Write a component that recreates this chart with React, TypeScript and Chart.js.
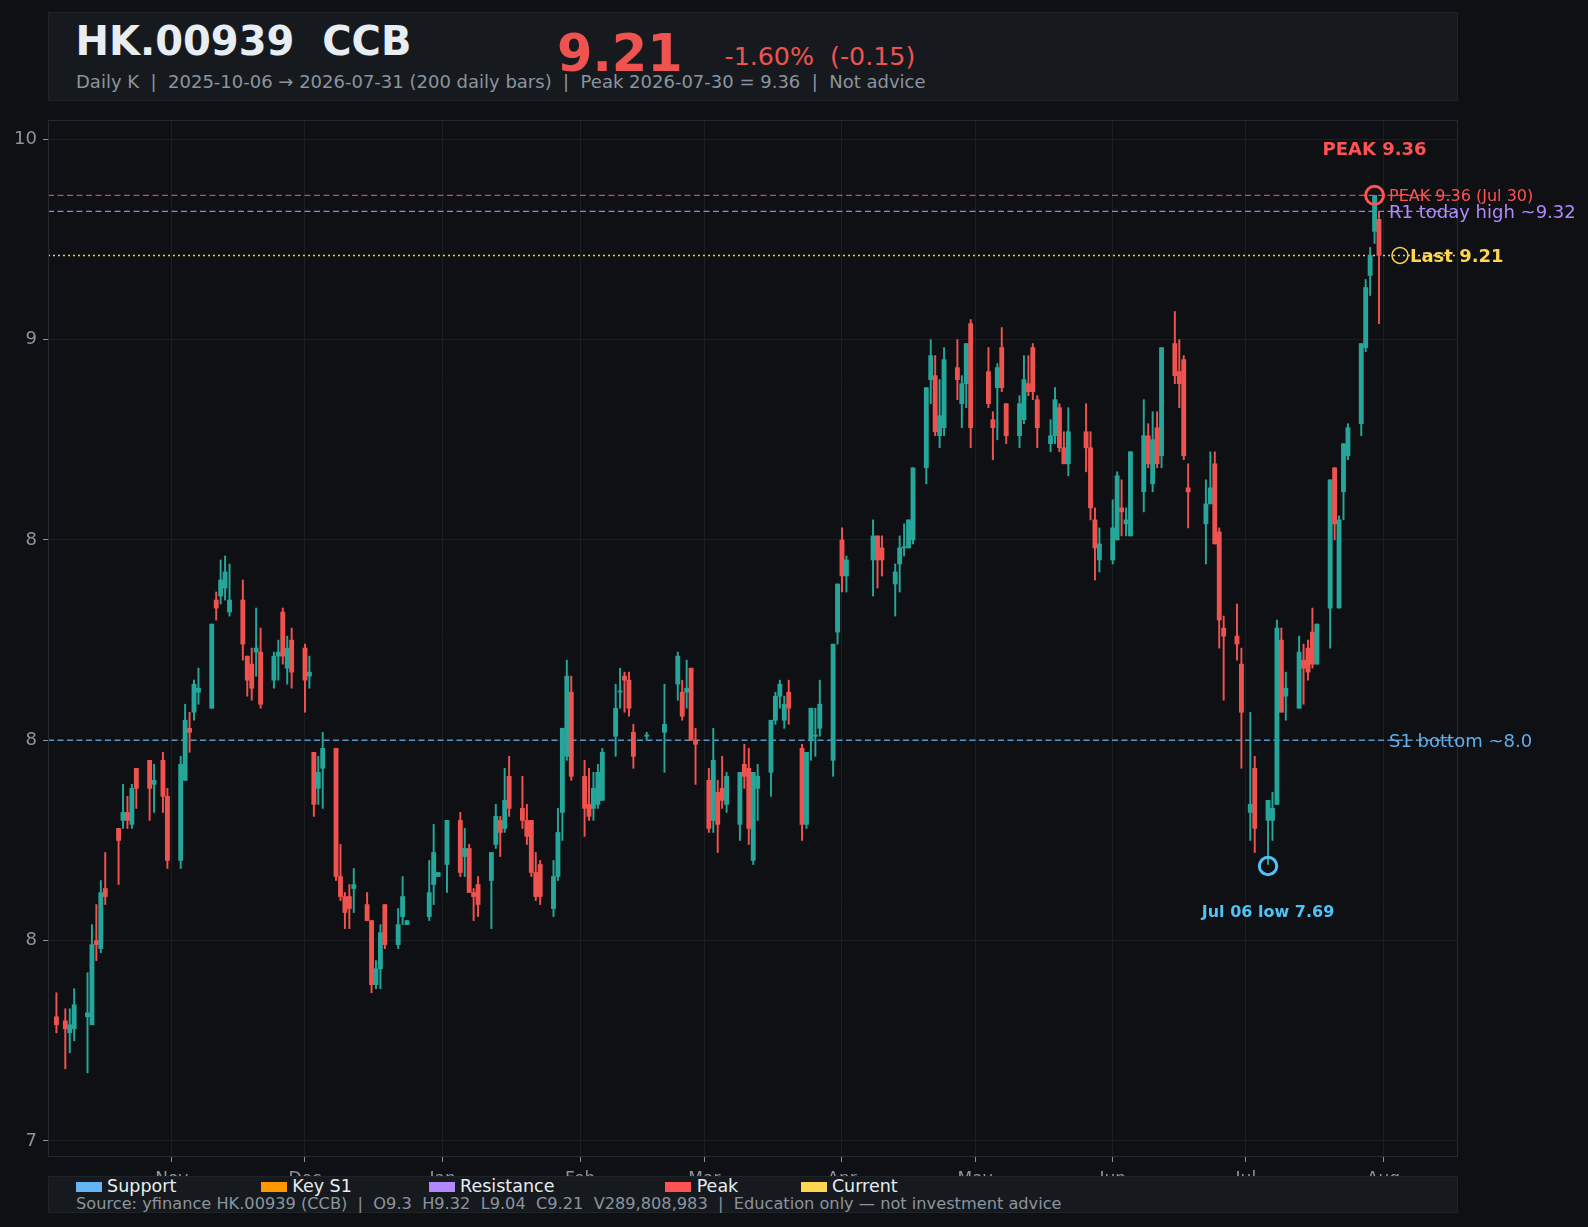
import React, { useEffect, useRef } from 'react';
import { Chart, registerables } from 'chart.js';

Chart.register(...registerables);

// ---------------- data ----------------
const tradeDates = [
  '2025-10-06','2025-10-08','2025-10-09','2025-10-10','2025-10-13','2025-10-14','2025-10-15','2025-10-16','2025-10-17','2025-10-20','2025-10-21','2025-10-22','2025-10-23','2025-10-24','2025-10-27','2025-10-28','2025-10-30','2025-10-31',
  '2025-11-03','2025-11-04','2025-11-05','2025-11-06','2025-11-07','2025-11-10','2025-11-11','2025-11-12','2025-11-13','2025-11-14','2025-11-17','2025-11-18','2025-11-19','2025-11-20','2025-11-21','2025-11-24','2025-11-25','2025-11-26','2025-11-27','2025-11-28',
  '2025-12-01','2025-12-02','2025-12-03','2025-12-04','2025-12-05','2025-12-08','2025-12-09','2025-12-10','2025-12-11','2025-12-12','2025-12-15','2025-12-16','2025-12-17','2025-12-18','2025-12-19','2025-12-22','2025-12-23','2025-12-24','2025-12-29','2025-12-30','2025-12-31',
  '2026-01-02','2026-01-05','2026-01-06','2026-01-07','2026-01-08','2026-01-09','2026-01-12','2026-01-13','2026-01-14','2026-01-15','2026-01-16','2026-01-19','2026-01-20','2026-01-21','2026-01-22','2026-01-23','2026-01-26','2026-01-27','2026-01-28','2026-01-29','2026-01-30',
  '2026-02-02','2026-02-03','2026-02-04','2026-02-05','2026-02-06','2026-02-09','2026-02-10','2026-02-11','2026-02-12','2026-02-13','2026-02-16','2026-02-20','2026-02-23','2026-02-24','2026-02-25','2026-02-26','2026-02-27',
  '2026-03-02','2026-03-03','2026-03-04','2026-03-05','2026-03-06','2026-03-09','2026-03-10','2026-03-11','2026-03-12','2026-03-13','2026-03-16','2026-03-17','2026-03-18','2026-03-19','2026-03-20','2026-03-23','2026-03-24','2026-03-25','2026-03-26','2026-03-27','2026-03-30','2026-03-31',
  '2026-04-01','2026-04-02','2026-04-08','2026-04-09','2026-04-10','2026-04-13','2026-04-14','2026-04-15','2026-04-16','2026-04-17','2026-04-20','2026-04-21','2026-04-22','2026-04-23','2026-04-24','2026-04-27','2026-04-28','2026-04-29','2026-04-30',
  '2026-05-04','2026-05-05','2026-05-06','2026-05-07','2026-05-08','2026-05-11','2026-05-12','2026-05-13','2026-05-14','2026-05-15','2026-05-18','2026-05-19','2026-05-20','2026-05-21','2026-05-22','2026-05-26','2026-05-27','2026-05-28','2026-05-29',
  '2026-06-01','2026-06-02','2026-06-03','2026-06-04','2026-06-05','2026-06-08','2026-06-09','2026-06-10','2026-06-11','2026-06-12','2026-06-15','2026-06-16','2026-06-17','2026-06-18','2026-06-22','2026-06-23','2026-06-24','2026-06-25','2026-06-26','2026-06-29','2026-06-30',
  '2026-07-02','2026-07-03','2026-07-06','2026-07-07','2026-07-08','2026-07-09','2026-07-10','2026-07-13','2026-07-14','2026-07-15','2026-07-16','2026-07-17','2026-07-20','2026-07-21','2026-07-22','2026-07-23','2026-07-24','2026-07-27','2026-07-28','2026-07-29','2026-07-30','2026-07-31',
];

const opens = [
  7.31,7.30,7.27,7.28,7.31,7.29,7.50,7.48,7.63,7.78,7.80,7.82,7.79,7.93,7.95,7.89,7.95,7.86,
  7.70,7.90,8.03,8.07,8.12,8.08,8.35,8.36,8.38,8.32,8.35,8.21,8.19,8.22,8.22,8.15,8.21,8.32,8.18,8.25,
  8.23,8.16,7.97,7.88,7.93,7.98,7.66,7.61,7.61,7.63,7.59,7.55,7.39,7.43,7.59,7.49,7.56,7.54,7.56,7.64,7.66,
  7.69,7.80,7.71,7.73,7.62,7.64,7.65,7.74,7.80,7.78,7.91,7.83,7.80,7.80,7.67,7.69,7.58,7.66,7.82,7.96,8.12,
  7.91,7.84,7.83,7.84,7.85,8.01,8.12,8.16,8.15,8.02,8.01,8.02,8.14,8.12,8.12,8.18,8.00,
  7.90,7.80,7.87,7.88,7.84,7.79,7.94,7.93,7.70,7.88,7.92,8.05,8.11,8.05,8.12,7.98,7.79,8.00,8.01,8.03,7.95,8.27,
  8.50,8.41,8.45,8.51,8.48,8.39,8.44,8.48,8.48,8.50,8.68,8.90,8.91,8.76,8.78,8.93,8.84,8.89,9.04,
  8.92,8.80,8.88,8.98,8.84,8.76,8.80,8.89,8.98,8.85,8.74,8.76,8.83,8.73,8.69,8.77,8.73,8.55,8.45,
  8.45,8.50,8.58,8.54,8.51,8.62,8.76,8.64,8.78,8.71,8.99,8.92,8.95,8.63,8.54,8.59,8.69,8.52,8.28,8.26,8.19,
  7.82,7.93,7.80,7.80,7.84,8.25,8.11,8.08,8.20,8.23,8.27,8.19,8.33,8.68,8.33,8.62,8.71,8.79,8.98,9.16,9.27,9.30,
];

const highs = [
  7.37,7.33,7.33,7.38,7.42,7.54,7.59,7.65,7.72,7.78,7.89,7.86,7.89,7.93,7.95,7.94,7.97,7.88,
  7.96,8.09,8.07,8.15,8.18,8.29,8.37,8.45,8.46,8.44,8.40,8.21,8.23,8.33,8.28,8.22,8.25,8.33,8.26,8.28,
  8.24,8.21,7.97,7.96,8.02,7.98,7.74,7.62,7.64,7.68,7.62,7.55,7.45,7.54,7.59,7.58,7.66,7.55,7.70,7.79,7.67,
  7.80,7.82,7.78,7.74,7.63,7.66,7.72,7.84,7.81,7.93,7.96,7.91,7.84,7.80,7.72,7.70,7.70,7.83,8.03,8.20,8.16,
  7.95,7.93,7.92,7.94,7.98,8.14,8.18,8.17,8.17,8.04,8.02,8.14,8.22,8.15,8.20,8.18,8.03,
  7.93,8.03,7.90,7.96,7.92,7.92,7.99,7.98,7.92,7.94,8.05,8.12,8.15,8.11,8.15,7.99,7.97,8.08,8.08,8.15,8.24,8.39,
  8.53,8.46,8.55,8.51,8.51,8.44,8.51,8.54,8.55,8.68,8.88,9.00,8.96,8.90,8.98,9.00,8.91,8.99,9.05,
  8.98,8.82,8.94,9.03,8.84,8.86,8.96,8.96,8.99,8.86,8.80,8.88,8.84,8.77,8.83,8.84,8.77,8.58,8.53,
  8.60,8.67,8.65,8.58,8.72,8.85,8.79,8.82,8.82,8.98,9.07,9.00,8.96,8.69,8.65,8.72,8.72,8.53,8.31,8.34,8.23,
  8.07,7.96,7.85,7.87,8.30,8.28,8.17,8.26,8.24,8.25,8.33,8.29,8.65,8.68,8.56,8.74,8.79,8.99,9.15,9.23,9.36,9.32,
];

const lows = [
  7.27,7.18,7.22,7.25,7.17,7.29,7.45,7.47,7.59,7.64,7.78,7.78,7.78,7.83,7.80,7.82,7.82,7.68,
  7.68,7.90,7.97,8.05,8.09,8.08,8.30,8.34,8.35,8.31,8.20,8.11,8.10,8.16,8.08,8.13,8.15,8.19,8.14,8.13,
  8.07,8.13,7.81,7.84,7.83,7.65,7.60,7.53,7.53,7.57,7.55,7.37,7.38,7.38,7.48,7.48,7.54,7.54,7.55,7.59,7.66,
  7.62,7.66,7.66,7.62,7.55,7.56,7.53,7.73,7.71,7.77,7.81,7.78,7.74,7.66,7.60,7.59,7.56,7.65,7.75,7.95,7.90,
  7.76,7.80,7.80,7.83,7.85,7.96,8.08,8.07,8.06,7.93,8.00,7.92,8.10,8.05,8.08,8.00,7.89,
  7.77,7.77,7.72,7.83,7.82,7.75,7.88,7.74,7.69,7.80,7.86,8.04,8.08,8.03,8.04,7.75,7.78,7.95,7.96,8.01,7.91,8.24,
  8.37,8.37,8.36,8.38,8.41,8.31,8.37,8.46,8.48,8.49,8.64,8.84,8.76,8.73,8.76,8.85,8.78,8.83,8.73,
  8.83,8.70,8.75,8.87,8.74,8.73,8.79,8.86,8.85,8.73,8.72,8.74,8.72,8.69,8.66,8.67,8.55,8.40,8.42,
  8.44,8.50,8.51,8.51,8.51,8.57,8.68,8.62,8.68,8.68,8.89,8.83,8.70,8.53,8.44,8.59,8.49,8.23,8.10,8.20,7.93,
  7.75,7.72,7.69,7.75,7.84,8.07,8.05,8.08,8.09,8.15,8.18,8.19,8.23,8.50,8.33,8.55,8.70,8.76,8.97,9.11,9.24,9.04,
];

const closes = [
  7.29,7.28,7.29,7.34,7.32,7.49,7.49,7.62,7.61,7.75,7.82,7.80,7.88,7.88,7.88,7.90,7.86,7.70,
  7.94,8.05,8.02,8.14,8.13,8.29,8.33,8.40,8.42,8.35,8.24,8.15,8.13,8.23,8.09,8.21,8.22,8.21,8.23,8.17,
  8.15,8.17,7.84,7.92,7.98,7.66,7.61,7.57,7.58,7.64,7.55,7.39,7.43,7.52,7.49,7.54,7.61,7.55,7.62,7.72,7.67,
  7.80,7.67,7.73,7.62,7.61,7.59,7.72,7.81,7.77,7.85,7.83,7.80,7.76,7.67,7.61,7.61,7.66,7.77,8.03,8.16,7.91,
  7.83,7.81,7.88,7.92,7.97,8.08,8.12,8.15,8.08,7.96,8.01,8.04,8.21,8.06,8.13,8.00,7.99,
  7.78,7.95,7.79,7.85,7.91,7.92,7.91,7.78,7.92,7.91,8.05,8.11,8.14,8.09,8.08,7.79,7.97,8.08,8.01,8.09,8.24,8.39,
  8.41,8.45,8.51,8.45,8.45,8.42,8.48,8.48,8.55,8.68,8.88,8.96,8.77,8.81,8.95,8.90,8.89,8.99,8.78,
  8.84,8.78,8.93,8.88,8.76,8.84,8.90,8.87,8.87,8.78,8.76,8.85,8.73,8.69,8.77,8.73,8.58,8.48,8.49,
  8.53,8.66,8.57,8.55,8.72,8.76,8.69,8.75,8.69,8.98,8.91,8.89,8.71,8.62,8.59,8.63,8.49,8.30,8.26,8.24,8.07,
  7.84,7.78,7.85,7.83,8.28,8.07,8.13,8.22,8.18,8.17,8.19,8.29,8.65,8.54,8.55,8.74,8.78,8.99,9.13,9.21,9.36,9.21,
];

const monthTickDates = ['2025-11-01','2025-12-01','2026-01-01','2026-02-01','2026-03-01','2026-04-01','2026-05-01','2026-06-01','2026-07-01','2026-08-01'];
const monthTickLabels = ['Nov','Dec','Jan','Feb','Mar','Apr','May','Jun','Jul','Aug'];
const yTickValues = [7, 7.5, 8, 8.5, 9, 9.5];
const yTickLabels = ['7', '8', '8', '8', '9', '10'];

const peakLevel = 9.36;
const peakDate = '2026-07-30';
const r1Level = 9.32;
const lastLevel = 9.21;
const s1Level = 8.0;
const lowLevel = 7.69;
const lowDate = '2026-07-06';

const legendItems = ['Support', 'Key S1', 'Resistance', 'Peak', 'Current'];
const legendColors = ['#64b5f6', '#ff9800', '#b388ff', '#ff5252', '#ffd54f'];

// ---------------- helpers ----------------
const W = 1588;
const H = 1227;
const FONT = '"DejaVu Sans", "Noto Sans", sans-serif';
const BG = '#0e1013';
const PANEL = '#161a1f';
const UP = '#26a69a';
const DOWN = '#ef5350';
const GRID = '#1b1e23';
const TICK = '#8b949e';

const BASE = Date.UTC(2025, 9, 6);
function dayOffset(s: string): number {
  const [y, m, d] = s.split('-').map(Number);
  return Math.round((Date.UTC(y, m - 1, d) - BASE) / 86400000);
}

function Txt(props: { left: number; base: number; size: number; bold?: boolean; color: string; children: React.ReactNode }) {
  const { left, base, size, bold, color, children } = props;
  return (
    <div
      style={{
        position: 'absolute',
        left,
        top: base - 0.846 * size,
        fontSize: size,
        lineHeight: `${size}px`,
        fontWeight: bold ? 700 : 400,
        color,
        whiteSpace: 'pre',
        fontFamily: FONT,
      }}
    >
      {children}
    </div>
  );
}

const annotatePlugin = {
  id: 'annotate',
  beforeDraw(chart: any) {
    const { ctx } = chart;
    ctx.save();
    ctx.fillStyle = BG;
    ctx.fillRect(0, 0, chart.width, chart.height);
    ctx.restore();
  },
  beforeDatasetsDraw(chart: any) {
    const { ctx, chartArea: a, scales } = chart;
    const y = scales.y;
    const lines = [
      { v: peakLevel, c: 'rgba(255,82,82,0.85)', d: [6, 3.5] },
      { v: r1Level, c: 'rgba(179,136,255,0.9)', d: [6, 3.5] },
      { v: lastLevel, c: 'rgba(255,213,79,0.95)', d: [2, 3] },
      { v: s1Level, c: 'rgba(100,170,230,0.85)', d: [6, 3.5] },
    ];
    ctx.save();
    ctx.lineWidth = 1.4;
    for (const l of lines) {
      const py = y.getPixelForValue(l.v);
      ctx.strokeStyle = l.c;
      ctx.setLineDash(l.d);
      ctx.beginPath();
      ctx.moveTo(a.left, py);
      ctx.lineTo(a.right, py);
      ctx.stroke();
    }
    ctx.restore();
  },
  afterDraw(chart: any) {
    const { ctx, chartArea: a, scales } = chart;
    const x = scales.x;
    const y = scales.y;
    ctx.save();
    // frame
    ctx.strokeStyle = '#252a30';
    ctx.lineWidth = 1;
    ctx.setLineDash([]);
    ctx.strokeRect(a.left + 0.5, a.top + 0.5, a.right - a.left - 1, a.bottom - a.top - 1);

    const xLast = x.getPixelForValue(dayOffset(tradeDates[tradeDates.length - 1]));
    const xPeak = x.getPixelForValue(dayOffset(peakDate));
    const yPeak = y.getPixelForValue(peakLevel);
    const xLow = x.getPixelForValue(dayOffset(lowDate));
    const yLow = y.getPixelForValue(lowLevel);
    const yR1 = y.getPixelForValue(r1Level);
    const yLast = y.getPixelForValue(lastLevel);
    const yS1 = y.getPixelForValue(s1Level);

    // peak circle
    ctx.lineWidth = 3;
    ctx.strokeStyle = '#ff5252';
    ctx.beginPath();
    ctx.arc(xPeak, yPeak, 9, 0, Math.PI * 2);
    ctx.stroke();
    // low circle
    ctx.strokeStyle = '#4fc3f7';
    ctx.beginPath();
    ctx.arc(xLow, yLow + 1.5, 8.7, 0, Math.PI * 2);
    ctx.stroke();
    // last marker
    ctx.lineWidth = 1.5;
    ctx.strokeStyle = '#ffd54f';
    ctx.beginPath();
    ctx.arc(xLast + 21, yLast, 8, 0, Math.PI * 2);
    ctx.stroke();

    ctx.textAlign = 'left';
    ctx.textBaseline = 'alphabetic';
    // labels right of plot
    ctx.font = `16px ${FONT}`;
    ctx.fillStyle = '#ff5252';
    ctx.fillText(`PEAK ${peakLevel.toFixed(2)} (Jul 30)`, xLast + 10, yPeak + 5.8);
    ctx.font = `18px ${FONT}`;
    ctx.fillStyle = '#b388ff';
    ctx.fillText(`R1 today high ~${r1Level.toFixed(2)}`, xLast + 10, yR1 + 6.5);
    ctx.font = `bold 18px ${FONT}`;
    ctx.fillStyle = '#ffd54f';
    ctx.fillText(`Last ${lastLevel.toFixed(2)}`, xLast + 31, yLast + 6.3);
    ctx.font = `18px ${FONT}`;
    ctx.fillStyle = '#62aee9';
    ctx.fillText(`S1 bottom ~${s1Level.toFixed(1)}`, xLast + 10, yS1 + 6.5);

    // centered labels
    ctx.textAlign = 'center';
    ctx.font = `bold 18px ${FONT}`;
    ctx.fillStyle = '#ff5252';
    ctx.fillText(`PEAK ${peakLevel.toFixed(2)}`, xPeak, yPeak - 40);
    ctx.font = `bold 16px ${FONT}`;
    ctx.fillStyle = '#4fc3f7';
    ctx.fillText(`Jul 06 low ${lowLevel.toFixed(2)}`, xLow, yLow + 53);
    ctx.restore();
  },
};

export default function App() {
  const canvasRef = useRef<HTMLCanvasElement>(null);

  useEffect(() => {
    const canvas = canvasRef.current;
    if (!canvas) return;
    const xs = tradeDates.map(dayOffset);
    const colors = closes.map((c, i) => (c >= opens[i] ? UP : DOWN));

    const chart = new Chart(canvas, {
      type: 'bar',
      data: {
        datasets: [
          {
            label: 'body',
            data: xs.map((x, i) => ({ x, y: [opens[i], closes[i]] })) as any,
            backgroundColor: colors,
            borderWidth: 0,
            barThickness: 4.2,
            minBarLength: 1.3,
            grouped: false,
            order: 0,
          } as any,
          {
            label: 'wick',
            data: xs.map((x, i) => ({ x, y: [lows[i], highs[i]] })) as any,
            backgroundColor: colors,
            borderWidth: 0,
            barThickness: 1.3,
            grouped: false,
            order: 1,
          } as any,
        ],
      },
      options: {
        animation: false,
        responsive: false,
        maintainAspectRatio: false,
        events: [],
        layout: { padding: { top: 120, right: W - 1458, left: 0, bottom: 0 } },
        plugins: {
          legend: { display: false },
          tooltip: { enabled: false },
        },
        scales: {
          x: {
            type: 'linear',
            min: -1.9,
            max: 315.8,
            offset: false,
            bounds: 'data',
            afterBuildTicks: (s: any) => {
              s.ticks = monthTickDates.map((d) => ({ value: dayOffset(d) }));
            },
            afterFit: (s: any) => {
              s.height = H - 1157;
            },
            ticks: {
              autoSkip: false,
              maxRotation: 0,
              color: TICK,
              padding: 7,
              font: { family: FONT, size: 17 },
              callback: (_v: any, i: number) => monthTickLabels[i],
            },
            grid: { color: GRID, tickLength: 5, tickColor: TICK, lineWidth: 1, offset: false },
            border: { display: false },
          },
          y: {
            type: 'linear',
            min: 6.96,
            max: 9.548,
            bounds: 'data',
            afterBuildTicks: (s: any) => {
              s.ticks = yTickValues.map((v) => ({ value: v }));
            },
            afterFit: (s: any) => {
              s.width = 48;
            },
            ticks: {
              color: TICK,
              padding: 6,
              font: { family: FONT, size: 18 },
              callback: (_v: any, i: number) => yTickLabels[i],
            },
            grid: { color: GRID, tickLength: 5, tickColor: TICK, lineWidth: 1 },
            border: { display: false },
          },
        },
      } as any,
      plugins: [annotatePlugin],
    });
    return () => chart.destroy();
  }, []);

  const legendX = [75.8, 261, 428.8, 665.4, 800.6];

  return (
    <div
      style={{
        position: 'fixed',
        left: 0,
        top: 0,
        width: W,
        height: H,
        background: BG,
        overflow: 'hidden',
        fontFamily: FONT,
      }}
    >
      <canvas
        ref={canvasRef}
        width={W}
        height={H}
        style={{ position: 'absolute', left: 0, top: 0, width: W, height: H }}
      />
      {/* header */}
      <div
        style={{
          position: 'absolute',
          left: 48,
          top: 12,
          width: 1410,
          height: 89,
          background: PANEL,
          border: '1px solid #1e2328',
          boxSizing: 'border-box',
        }}
      />
      <Txt left={75.5} base={55} size={40} bold color="#e6edf3">HK.00939  CCB</Txt>
      <Txt left={557} base={71.5} size={51} bold color="#ef5350">9.21</Txt>
      <Txt left={724.5} base={65} size={25.3} color="#ef5350">-1.60%  (-0.15)</Txt>
      <Txt left={76} base={88.3} size={18} color={TICK}>
        Daily K  |  2025-10-06 → 2026-07-31 (200 daily bars)  |  Peak 2026-07-30 = 9.36  |  Not advice
      </Txt>
      {/* legend / footer panel */}
      <div
        style={{
          position: 'absolute',
          left: 48,
          top: 1176,
          width: 1410,
          height: 37,
          background: PANEL,
          border: '1px solid #1e2328',
          boxSizing: 'border-box',
        }}
      />
      {legendItems.map((name, i) => (
        <React.Fragment key={name}>
          <div
            style={{
              position: 'absolute',
              left: legendX[i],
              top: 1182.3,
              width: 26,
              height: 10,
              background: legendColors[i],
            }}
          />
          <Txt left={legendX[i] + 31.3} base={1193.3} size={17.5} color="#e6edf3">{name}</Txt>
        </React.Fragment>
      ))}
      <Txt left={76} base={1210} size={16.2} color={TICK}>
        Source: yfinance HK.00939 (CCB)  |  O9.3  H9.32  L9.04  C9.21  V289,808,983  |  Education only — not investment advice
      </Txt>
    </div>
  );
}
